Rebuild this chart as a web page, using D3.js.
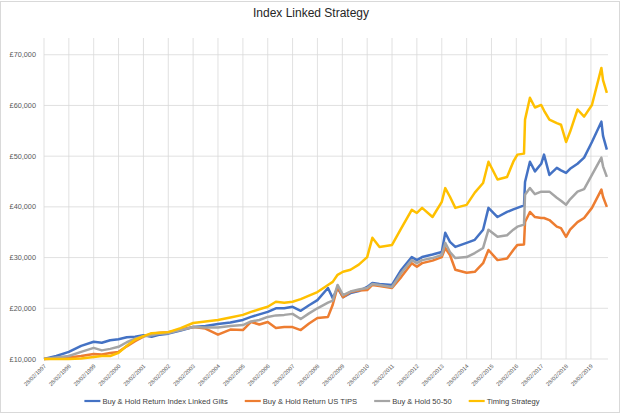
<!DOCTYPE html>
<meta charset="utf-8">
<title>Index Linked Strategy</title>
<script src="https://d3js.org/d3.v7.min.js"></script>
<style>
body { margin:0; background:#fff; font-family:"Liberation Sans", Arial, sans-serif; }
.grid line { stroke:#d9d9d9; stroke-width:0.8; }
.ylab, .xlab { fill:#595959; }
.legend text { fill:#404040; }
</style>
<svg width="620" height="414"></svg>
<script>

// sample dates
var dates = ["1997-02-28","1997-08-28","1998-02-28","1998-08-28","1999-02-28","1999-06-28","1999-10-28",
  "2000-02-28","2000-06-28","2000-10-28","2001-02-28","2001-06-28","2001-10-28","2002-02-28","2002-08-28",
  "2003-02-28","2003-08-28","2004-02-28","2004-08-28","2005-02-28","2005-06-28","2005-10-28","2006-02-28",
  "2006-06-28","2006-10-28","2007-02-28","2007-06-28","2007-10-28","2008-02-28","2008-08-01","2008-10-10",
  "2008-12-20","2009-03-10","2009-06-28","2009-10-28","2010-02-28","2010-05-15","2010-08-28","2011-02-28",
  "2011-07-15","2011-12-15","2012-02-28","2012-05-15","2012-10-15","2013-02-28","2013-04-20","2013-06-28",
  "2013-09-15","2014-02-28","2014-06-28","2014-10-28","2015-01-15","2015-05-28","2015-10-15","2016-01-15",
  "2016-03-15","2016-06-20","2016-07-05","2016-09-15","2016-11-28","2017-02-28","2017-04-10","2017-06-28",
  "2017-10-15","2017-12-15","2018-02-28","2018-04-28","2018-08-15","2018-11-20","2019-03-15","2019-08-01",
  "2019-08-25","2019-10-20"];

// values in £ thousands
var gilts = [10.0,10.6,11.4,12.6,13.4,13.2,13.7,13.9,14.3,14.4,14.7,14.4,14.8,15.0,15.6,16.3,16.5,16.9,17.2,17.7,
  18.3,18.8,19.3,20.0,20.0,20.3,19.5,20.6,21.6,24.0,22.0,24.0,22.2,23.0,23.4,24.2,25.0,24.8,24.6,27.6,30.1,29.5,
  30.1,30.6,31.1,34.9,33.1,32.1,32.9,33.5,35.5,39.8,38.0,39.0,39.5,39.8,40.3,44.9,48.9,47.0,48.5,50.3,46.3,47.7,
  47.2,46.7,47.5,48.5,49.7,52.8,56.8,54.0,51.3];
var tips = [10.0,10.1,10.3,10.6,11.0,10.9,11.2,11.4,12.5,13.5,14.4,15.0,15.2,15.3,15.8,16.3,16.0,14.8,15.8,15.7,
  17.3,16.8,17.3,16.1,16.3,16.3,15.7,17.0,18.1,18.3,20.7,24.2,22.2,23.2,23.5,23.6,24.6,24.4,24.0,26.2,28.9,28.2,
  28.9,29.4,30.1,31.9,30.5,27.6,27.0,27.2,28.9,31.5,29.5,29.8,31.5,32.5,32.6,37.0,39.0,38.0,37.8,37.8,37.4,36.1,
  35.8,34.1,35.5,37.0,37.8,39.8,43.4,42.0,40.0];
var fiftyFifty = [10.0,10.3,10.6,11.4,12.2,11.7,12.0,12.4,13.3,14.0,14.5,14.7,15.0,15.1,15.7,16.3,16.2,16.2,16.5,
  16.7,17.4,17.7,18.3,18.6,18.7,18.9,17.9,19.0,20.0,21.1,21.5,24.6,22.6,23.3,23.7,24.0,24.8,24.6,24.2,27.0,29.5,
  28.9,29.5,29.9,30.5,32.9,31.1,29.9,30.1,30.9,31.9,35.5,34.1,34.4,35.5,36.1,36.5,42.4,43.7,42.5,43.0,43.0,43.0,
  41.8,41.2,40.4,41.5,43.0,43.5,46.3,49.7,48.0,45.9];
var timing = [10.0,10.0,10.0,10.1,10.4,10.6,10.6,11.2,12.6,13.8,14.5,15.1,15.2,15.3,16.1,17.1,17.4,17.7,18.2,18.7,
  19.3,19.8,20.3,21.3,21.1,21.3,21.8,22.5,23.2,24.6,25.2,26.6,27.2,27.6,28.6,30.1,33.9,32.1,32.5,35.8,39.4,38.8,
  39.8,38.0,41.0,43.7,42.0,39.8,40.4,42.8,44.7,48.9,45.4,45.9,48.9,50.3,50.5,57.2,61.5,59.6,60.1,59.0,57.2,56.5,
  56.2,52.8,54.8,59.2,57.8,60.1,67.4,65.0,62.5];

var seriesNames = ["Buy & Hold Return Index Linked Gilts", "Buy & Hold Return US TIPS", "Buy & Hold 50-50", "Timing Strategy"];
var seriesValues = [gilts, tips, fiftyFifty, timing];
var colors = ["#4472c4", "#ed7d31", "#a5a5a5", "#ffc000"];

var yTicks = [10000, 20000, 30000, 40000, 50000, 60000, 70000];
var tickYears = d3.range(1997, 2020);

var parse = d3.timeParse("%Y-%m-%d");

var svg = d3.select("svg");

svg.append("rect")
    .attr("x", 0.5).attr("y", 1.5).attr("width", 619).attr("height", 411)
    .attr("fill", "#fff").attr("stroke", "#d9d9d9");

var x = d3.scaleTime()
    .domain([parse("1997-02-28"), parse("2019-11-06")])
    .range([44, 608]);
var y = d3.scaleLinear()
    .domain([10000, 73300])
    .range([359, 38]);

svg.append("text")
    .attr("x", 311).attr("y", 17)
    .attr("text-anchor", "middle")
    .style("font-size", "12px")
    .style("fill", "#262626")
    .text("Index Linked Strategy");

var grid = svg.append("g").attr("class", "grid");
grid.selectAll(".hg").data(yTicks).enter().append("line")
    .attr("x1", 44).attr("x2", 608)
    .attr("y1", function(d) { return y(d); })
    .attr("y2", function(d) { return y(d); });
grid.selectAll(".vg").data(tickYears).enter().append("line")
    .attr("x1", function(d) { return x(new Date(d, 1, 28)); })
    .attr("x2", function(d) { return x(new Date(d, 1, 28)); })
    .attr("y1", 38).attr("y2", 359);

var fmt = d3.format(",");
svg.selectAll(".ylab").data(yTicks).enter().append("text")
    .attr("class", "ylab")
    .attr("x", 36)
    .attr("y", function(d) { return y(d); })
    .attr("dy", "0.35em")
    .attr("text-anchor", "end")
    .style("font-size", "7.3px")
    .text(function(d) { return "£" + fmt(d); });

svg.selectAll(".xlab").data(tickYears).enter().append("text")
    .attr("class", "xlab")
    .attr("transform", function(d) { return "translate(" + (x(new Date(d, 1, 28)) + 1) + ",365) rotate(-45)"; })
    .attr("dy", "0.35em")
    .attr("text-anchor", "end")
    .style("font-size", "5.7px")
    .text(function(d) { return "28/02/" + d; });

var line = d3.line()
    .x(function(d) { return x(d.date); })
    .y(function(d) { return y(d.value); });

seriesValues.forEach(function(vals, i) {
  var pts = dates.map(function(s, j) { return { date: parse(s), value: vals[j] * 1000 }; });
  svg.append("path")
      .datum(pts)
      .attr("fill", "none")
      .attr("stroke", colors[i])
      .attr("stroke-width", 2.5)
      .attr("stroke-linejoin", "round")
      .attr("d", line);
});

// legend
var legend = svg.append("g").attr("class", "legend");
var cx = 0;
seriesNames.forEach(function(name, i) {
  var item = legend.append("g").attr("transform", "translate(" + cx + ",0)");
  item.append("line")
      .attr("x1", 0).attr("x2", 16).attr("y1", 0).attr("y2", 0)
      .attr("stroke", colors[i]).attr("stroke-width", 2.2);
  var t = item.append("text")
      .attr("x", 18).attr("dy", "0.35em")
      .style("font-size", "7.6px")
      .text(name);
  cx += 18 + t.node().getComputedTextLength() + 17;
});
var total = cx - 17;
legend.attr("transform", "translate(" + (312 - total / 2) + ",401)");

</script>
</html>
